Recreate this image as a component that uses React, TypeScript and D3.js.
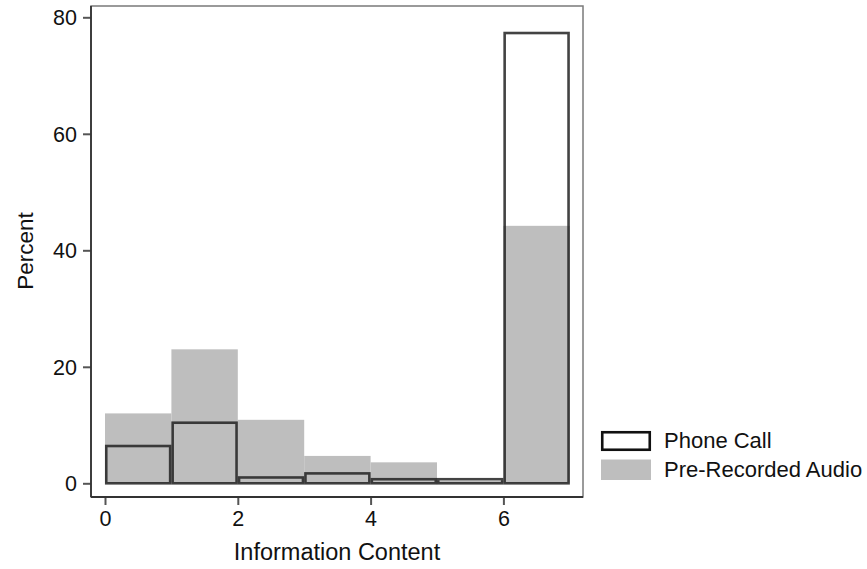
import React, { useEffect, useRef } from "react";
import * as d3 from "d3";

// bins are [i, i+1] on Information Content, values in percent
const binStarts = [0, 1, 2, 3, 4, 5, 6];
const phoneCall = [6.4, 10.4, 1.0, 1.7, 0.7, 0.7, 77.3];
const preRecorded = [12.0, 23.0, 10.9, 4.7, 3.6, 0.4, 44.2];
const xTicks = [0, 2, 4, 6];
const yTicks = [0, 20, 40, 60, 80];
const legendLabels = ["Phone Call", "Pre-Recorded Audio"];

const W = 867;
const H = 569;

const App = () => {
  const svgRef = useRef<SVGSVGElement>(null);

  useEffect(() => {
    const svg = d3.select(svgRef.current);
    svg.selectAll("*").remove();

    const frame = { left: 91, right: 583, top: 6, bottom: 497 };
    const font = "Liberation Sans, Arial, sans-serif";

    const x = d3.scaleLinear().domain([0, 7]).range([105, 569.8]);
    const y = d3.scaleLinear().domain([0, 80]).range([483.3, 17.3]);

    svg.append("rect").attr("width", W).attr("height", H).attr("fill", "#fff");

    // plot frame
    svg
      .append("rect")
      .attr("x", frame.left)
      .attr("y", frame.top)
      .attr("width", frame.right - frame.left)
      .attr("height", frame.bottom - frame.top)
      .attr("fill", "none")
      .attr("stroke", "#7a7a7a")
      .attr("stroke-width", 1.5);

    // pre-recorded audio (filled gray)
    svg
      .append("g")
      .selectAll("rect")
      .data(binStarts)
      .join("rect")
      .attr("x", (d) => x(d))
      .attr("y", (d, i) => y(preRecorded[i]))
      .attr("width", (d) => x(d + 1) - x(d))
      .attr("height", (d, i) => y(0) - y(preRecorded[i]))
      .attr("fill", "#bebebe");

    // phone call (outline only)
    svg
      .append("g")
      .selectAll("rect")
      .data(binStarts)
      .join("rect")
      .attr("x", (d) => x(d) + 1.25)
      .attr("y", (d, i) => y(phoneCall[i]))
      .attr("width", (d) => x(d + 1) - x(d) - 2.5)
      .attr("height", (d, i) => y(0) - y(phoneCall[i]))
      .attr("fill", "none")
      .attr("stroke", "#222")
      .attr("stroke-opacity", 0.85)
      .attr("stroke-width", 2.6);

    // axes
    const yAxis = svg
      .append("g")
      .attr("transform", `translate(${frame.left},0)`)
      .call(
        d3.axisLeft(y).tickValues(yTicks).tickFormat(d3.format("d")).tickSize(8).tickPadding(6)
      );
    const xAxis = svg
      .append("g")
      .attr("transform", `translate(0,${frame.bottom})`)
      .call(
        d3.axisBottom(x).tickValues(xTicks).tickFormat(d3.format("d")).tickSize(8).tickPadding(6)
      );

    [yAxis, xAxis].forEach((g) => {
      g.attr("font-size", null).attr("font-family", null);
      g.select(".domain").remove();
      g.selectAll("line").attr("stroke", "#555").attr("stroke-width", 2);
      g.selectAll("text")
        .attr("font-family", font)
        .attr("font-size", 21.5)
        .attr("fill", "#111");
    });
    yAxis.selectAll("text").attr("dy", "0.35em");
    xAxis.selectAll("text").attr("dy", "0.72em");

    svg
      .append("line")
      .attr("x1", frame.left)
      .attr("x2", frame.left)
      .attr("y1", frame.top)
      .attr("y2", frame.bottom)
      .attr("stroke", "#333")
      .attr("stroke-width", 1.8);
    svg
      .append("line")
      .attr("x1", frame.left)
      .attr("x2", frame.right)
      .attr("y1", frame.bottom)
      .attr("y2", frame.bottom)
      .attr("stroke", "#333")
      .attr("stroke-width", 1.8);

    // axis titles
    svg
      .append("text")
      .attr("x", 337)
      .attr("y", 560)
      .attr("text-anchor", "middle")
      .attr("font-family", font)
      .attr("font-size", 23.5)
      .attr("fill", "#111")
      .text("Information Content");
    svg
      .append("text")
      .attr("transform", `translate(33,251) rotate(-90)`)
      .attr("text-anchor", "middle")
      .attr("font-family", font)
      .attr("font-size", 22.5)
      .attr("fill", "#111")
      .text("Percent");

    // legend
    const lg = svg.append("g").attr("transform", "translate(601,431)");
    lg.append("rect")
      .attr("x", 1.25)
      .attr("y", 1.25)
      .attr("width", 47.5)
      .attr("height", 17.5)
      .attr("fill", "#fff")
      .attr("stroke", "#111")
      .attr("stroke-width", 2.6);
    lg.append("rect")
      .attr("y", 28.5)
      .attr("width", 50)
      .attr("height", 20.5)
      .attr("fill", "#bebebe");
    legendLabels.forEach((label, i) => {
      lg.append("text")
        .attr("x", 63)
        .attr("y", 17 + i * 29)
        .attr("font-family", font)
        .attr("font-size", 22)
        .attr("fill", "#111")
        .text(label);
    });
  }, []);

  return (
    <svg
      ref={svgRef}
      width={W}
      height={H}
      style={{ position: "absolute", left: 0, top: 0 }}
    />
  );
};

export default App;
